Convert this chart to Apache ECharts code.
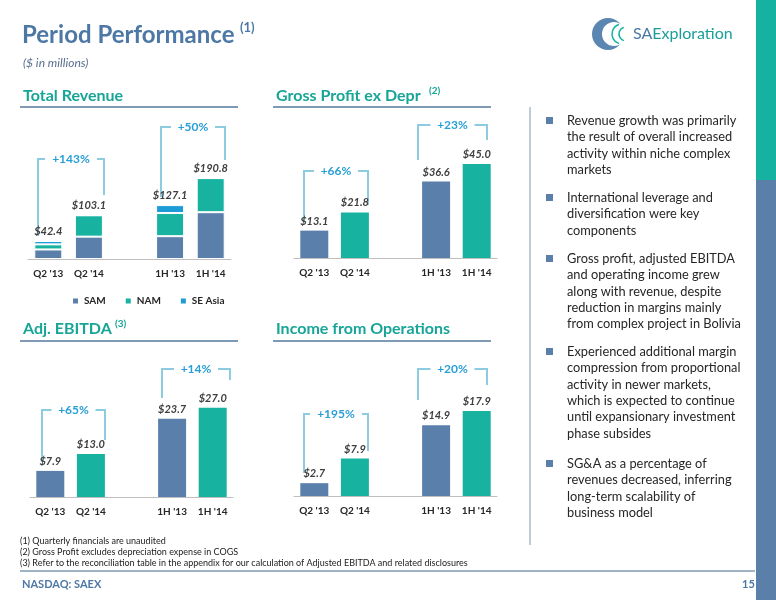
<!DOCTYPE html>
<html>
<head>
<meta charset="utf-8">
<script src="https://cdn.jsdelivr.net/npm/echarts@6/dist/echarts.min.js"></script>
<style>html,body{margin:0;padding:0;background:#fff}#c{width:776px;height:600px}</style>
</head>
<body>
<div id="c"></div>
<script>
const categories = ["Q2 '13", "Q2 '14", '', "1H '13", "1H '14"]
const revSAM = [22.5, 52.7, '-', 53.8, 110.4]
const revNAM = [12.0, 50.4, '-', 54.6, 80.4]
const revSEAsia = [7.9, 0, '-', 18.7, 0]
const revTotal = [42.4, 103.1, '-', 127.1, 190.8]
const grossProfit = [13.1, 21.8, '-', 36.6, 45.0]
const ebitda = [7.9, 13.0, '-', 23.7, 27.0]
const incomeOps = [2.7, 7.9, '-', 14.9, 17.9]
const growth = [['+143%', '+50%'], ['+66%', '+23%'], ['+65%', '+14%'], ['+195%', '+20%']]

const BLUE = '#5a7fab', TEAL = '#17b3a0', SKY = '#1d9bd7', BR = '#8ccbe0'
const FONT = 'Lato'
const chart = echarts.init(document.getElementById('c'))

const grids = [
  { left: 28, top: 153, width: 203, height: 106 },
  { left: 294, top: 143, width: 203, height: 115 },
  { left: 30, top: 388, width: 203, height: 109 },
  { left: 294, top: 391.5, width: 203, height: 104.5 },
]
const maxes = [250, 55, 33, 22]

const valLabel = {
  show: true, position: 'top', distance: 4, color: '#404040',
  fontFamily: FONT, fontStyle: 'italic', fontWeight: 'bold', fontSize: 11,
  formatter: p => '$' + Number(p.value).toFixed(1),
}

function bar(gi, data, color, extra) {
  return Object.assign({
    type: 'bar', xAxisIndex: gi, yAxisIndex: gi, data, barWidth: 28,
    itemStyle: { color }, label: valLabel,
  }, extra)
}

// second bar of each pair is teal
const pairColored = data => data.map((v, i) => v === '-' ? v : { value: v, itemStyle: { color: i === 1 || i === 4 ? TEAL : BLUE } })
const stackStyle = c => ({ color: c, borderColor: '#fff', borderWidth: 1 })

const series = [
  bar(0, revSAM, BLUE, { name: 'SAM', stack: 'r', label: { show: false }, itemStyle: stackStyle(BLUE) }),
  bar(0, revNAM, TEAL, { name: 'NAM', stack: 'r', label: { show: false }, itemStyle: stackStyle(TEAL) }),
  bar(0, revSEAsia, SKY, { name: 'SE Asia', stack: 'r', label: { show: false }, itemStyle: stackStyle(SKY) }),
  bar(0, revTotal.map(v => v === '-' ? v : 0), 'transparent', {
    stack: 'r', label: Object.assign({}, valLabel, { formatter: p => '$' + revTotal[p.dataIndex].toFixed(1) }),
  }),
  bar(1, pairColored(grossProfit), BLUE),
  bar(2, pairColored(ebitda), BLUE),
  bar(3, pairColored(incomeOps), BLUE),
]

// brackets: [xLeft, xRight, yTop, yLeftEnd, yRightEnd]
const brackets = [
  [[38, 104, 159, 236, 195], [161, 225, 127, 197, 160]],
  [[304, 368, 171, 222, 205], [418, 487, 125, 160, 140]],
  [[42, 105, 410, 462, 440], [162, 230, 369, 398, 380]],
  [[304, 368, 414, 473, 451], [418, 487, 369, 400, 385]],
]
const graphic = []
brackets.forEach((pair, gi) => pair.forEach((b, k) => {
  const [l, r, t, yl, yr] = b
  const cx = (l + r) / 2
  const label = growth[gi][k]
  const half = label.length * 4 + 6
  graphic.push({ type: 'polyline', shape: { points: [[l, yl], [l, t], [cx - half, t]] }, style: { stroke: BR, lineWidth: 2, fill: null } })
  graphic.push({ type: 'polyline', shape: { points: [[cx + half, t], [r, t], [r, yr]] }, style: { stroke: BR, lineWidth: 2, fill: null } })
  graphic.push({ type: 'text', x: cx, y: t, style: { text: label, fill: '#2a9fd6', font: 'bold 12px ' + FONT, align: 'center', verticalAlign: 'middle' } })
}))

const NOTE = '9px "Liberation Sans Narrow", ' + FONT
const texts = [
  ['Period Performance', 22, 35, 'bold 24px ' + FONT, '#4d78a5'],
  ['(1)', 240, 28, 'bold 13px ' + FONT, '#4d78a5'],
  ['($ in millions)', 23, 63, 'italic 12px ' + FONT, '#5a6f8f'],
  ['Total Revenue', 23, 96, 'bold 16px ' + FONT, '#17a597'],
  ['Gross Profit ex Depr', 276, 96, 'bold 16px ' + FONT, '#17a597'],
  ['(2)', 429, 91, 'bold 10px ' + FONT, '#17a597'],
  ['Adj. EBITDA', 23, 329, 'bold 16px ' + FONT, '#17a597'],
  ['(3)', 115, 324, 'bold 10px ' + FONT, '#17a597'],
  ['Income from Operations', 276, 329, 'bold 16px ' + FONT, '#17a597'],
  ['(1) Quarterly financials are unaudited', 20, 541, NOTE, '#222'],
  ['(2) Gross Profit excludes depreciation expense in COGS', 20, 552, NOTE, '#222'],
  ['(3) Refer to the reconciliation table in the appendix for our calculation of Adjusted EBITDA and related disclosures', 20, 563, NOTE, '#222'],
  ['NASDAQ: SAEX', 22, 584, 'bold 11px ' + FONT, '#4d78a5'],
  ['15', 742, 584, 'bold 11px ' + FONT, '#4d78a5'],
]
texts.forEach(([text, x, y, font, fill]) => graphic.push({ type: 'text', x, y, style: { text, font, fill, verticalAlign: 'middle' } }))

const bullets = [
  ['Revenue growth was primarily', 'the result of overall increased', 'activity within niche complex', 'markets'],
  ['International leverage and', 'diversification were key', 'components'],
  ['Gross profit, adjusted EBITDA', 'and operating income grew', 'along with revenue, despite', 'reduction in margins mainly', 'from complex project in Bolivia'],
  ['Experienced additional margin', 'compression from proportional', 'activity in newer markets,', 'which is expected to continue', 'until expansionary investment', 'phase subsides'],
  ['SG&A as a percentage of', 'revenues decreased, inferring', 'long-term scalability of', 'business model'],
]
const bulletTops = [121, 198, 259, 352, 464]
bullets.forEach((lines, i) => {
  graphic.push({ type: 'rect', shape: { x: 546, y: bulletTops[i] - 4, width: 7, height: 7 }, style: { fill: '#5a7fab' } })
  graphic.push({ type: 'text', x: 567, y: bulletTops[i] - 8.5, style: { text: lines.join('\n'), font: '12.8px ' + FONT, fill: '#262626', lineHeight: 16.4 } })
})

// rules, strips, logo
const rule = (x1, y1, x2, y2, stroke, lineWidth) => ({ type: 'line', shape: { x1, y1, x2, y2 }, style: { stroke, lineWidth } })
graphic.push(
  rule(20, 107, 238, 107, '#7f9ab5', 2),
  rule(273, 107, 491, 107, '#7f9ab5', 2),
  rule(20, 341, 238, 341, '#7f9ab5', 2),
  rule(273, 341, 491, 341, '#7f9ab5', 2),
  rule(530, 107, 530, 545, '#aabccd', 1.5),
  rule(20, 571, 755, 571, '#7f9ab5', 1.5),
  { type: 'rect', shape: { x: 756, y: 0, width: 20, height: 180 }, style: { fill: '#15b2a2' } },
  { type: 'rect', shape: { x: 756, y: 180, width: 20, height: 420 }, style: { fill: '#5a80aa' } },
  { type: 'circle', shape: { cx: 608, cy: 34, r: 16 }, style: { fill: '#5b86b2' } },
  { type: 'circle', shape: { cx: 614, cy: 34, r: 12 }, style: { fill: '#fff' } },
  { type: 'arc', shape: { cx: 622, cy: 34, r: 10, startAngle: Math.PI * 0.6, endAngle: Math.PI * 1.4 }, style: { stroke: '#17b3a0', lineWidth: 1.5, fill: null } },
  { type: 'arc', shape: { cx: 626, cy: 34, r: 7, startAngle: Math.PI * 0.6, endAngle: Math.PI * 1.4 }, style: { stroke: '#17b3a0', lineWidth: 1.5, fill: null } },
  { type: 'text', x: 633, y: 34, style: { text: '{a|SA}{b|Exploration}', verticalAlign: 'middle', rich: { a: { font: '16px ' + FONT, fill: '#4d78a5' }, b: { font: '16px ' + FONT, fill: '#1a9e9a' } } } },
)

chart.setOption({
  animation: false,
  grid: grids,
  xAxis: grids.map((g, i) => ({
    type: 'category', gridIndex: i, data: categories,
    axisLine: { lineStyle: { color: '#bfbfbf' } }, axisTick: { show: false },
    axisLabel: { color: '#262626', fontFamily: FONT, fontWeight: 'bold', fontSize: 10, margin: 10, interval: 0 },
  })),
  yAxis: grids.map((g, i) => ({ type: 'value', gridIndex: i, min: 0, max: maxes[i], show: false, splitLine: { show: false } })),
  legend: {
    data: ['SAM', 'NAM', 'SE Asia'], left: 66, top: 291, itemWidth: 7, itemHeight: 7, itemGap: 18,
    icon: 'rect', textStyle: { fontFamily: FONT, fontWeight: 'bold', fontSize: 10, color: '#262626' },
  },
  series,
  graphic,
})
</script>
</body>
</html>
